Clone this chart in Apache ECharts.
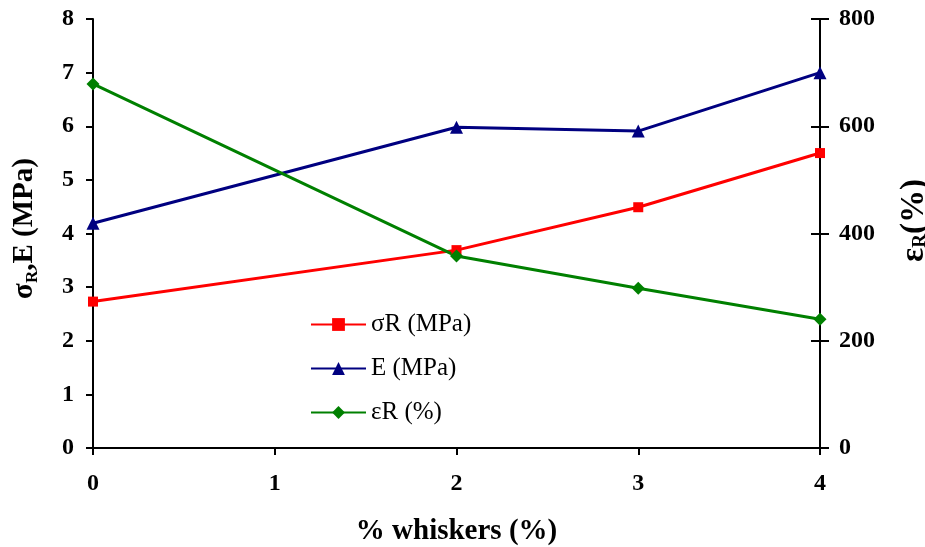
<!DOCTYPE html>
<html>
<head>
<meta charset="utf-8">
<script src="https://cdn.jsdelivr.net/npm/echarts@6/dist/echarts.min.js"></script>
<style>html,body{margin:0;padding:0;background:#fff}#c{width:925px;height:547px}</style>
</head>
<body>
<div id="c"></div>
<script>
const xValues = [0, 2, 3, 4];
const sigmaR = [2.73, 3.69, 4.49, 5.5];
const modulusE = [4.19, 5.98, 5.91, 7.0];
const epsR = [679, 358, 298, 240];
const xTicks = [0, 1, 2, 3, 4];
const seriesNames = ['σR (MPa)', 'E (MPa)', 'εR (%)'];

const F = '"Liberation Serif", "Times New Roman", serif';
const pair = arr => arr.map((v, i) => [xValues[i], v]);

const chart = echarts.init(document.getElementById('c'));
const tickLbl = { fontFamily: F, fontWeight: 'bold', fontSize: 24, color: '#000' };
const mkRich = (big, small) => ({
  a: { fontFamily: F, fontWeight: 'bold', fontSize: big, color: '#000', lineHeight: 32 },
  b: { fontFamily: F, fontWeight: 'bold', fontSize: small, color: '#000', lineHeight: 32, verticalAlign: 'bottom', padding: [12, 0, 0, 0] }
});
chart.setOption({
  animation: false,
  grid: { left: 93, right: 105, top: 19, bottom: 99, containLabel: false, outerBoundsMode: 'none' },
  legend: {
    orient: 'vertical', left: 310, top: 312, padding: 0,
    itemWidth: 55, itemHeight: 16, itemGap: 19,
    selectedMode: false,
    textStyle: { fontFamily: F, fontSize: 25, color: '#000', lineHeight: 24 },
    data: seriesNames
  },
  xAxis: {
    type: 'value', min: xTicks[0], max: xTicks[xTicks.length - 1], interval: 1,
    name: '% whiskers (%)', nameLocation: 'middle', nameGap: 69,
    nameTextStyle: { fontFamily: F, fontWeight: 'bold', fontSize: 29, color: '#000' },
    axisLine: { lineStyle: { color: '#000', width: 2 } },
    axisTick: { show: true, length: 7, lineStyle: { color: '#000', width: 2 } },
    axisLabel: Object.assign({ margin: 24 }, tickLbl),
    splitLine: { show: false }
  },
  yAxis: [
    {
      type: 'value', position: 'left', min: 0, max: 8, interval: 1,
      name: '{a|σ}{b|R}{a|,E (MPa)}', nameLocation: 'middle', nameGap: 52, nameRotate: 90,
      nameTextStyle: { color: '#000', padding: [0, 0, 0, 10], rich: mkRich(29, 17) },
      axisLine: { show: true, lineStyle: { color: '#000', width: 2 } },
      axisTick: { show: true, length: 7, lineStyle: { color: '#000', width: 2 } },
      axisLabel: Object.assign({ margin: 19 }, tickLbl),
      splitLine: { show: false }
    },
    {
      type: 'value', position: 'right', min: 0, max: 800, interval: 200,
      name: '{a|ε}{b|R}{a|(%)}', nameLocation: 'middle', nameGap: 78, nameRotate: 90,
      nameTextStyle: { color: '#000', padding: [0, 0, 0, 26], rich: mkRich(33, 19) },
      axisLine: { show: true, lineStyle: { color: '#000', width: 2 } },
      axisTick: { show: true, length: 9, lineStyle: { color: '#000', width: 2 } },
      axisLabel: Object.assign({ margin: 19 }, tickLbl),
      splitLine: { show: false }
    },
    {
      type: 'value', position: 'right', min: 0, max: 800, interval: 200,
      axisLine: { show: false },
      axisTick: { show: true, inside: true, length: 9, lineStyle: { color: '#000', width: 2 } },
      axisLabel: { show: false },
      splitLine: { show: false }
    }
  ],
  series: [
    { name: seriesNames[0], type: 'line', yAxisIndex: 0, data: pair(sigmaR),
      symbol: 'rect', symbolSize: 10, color: '#FF0000',
      lineStyle: { width: 3, color: '#FF0000' }, itemStyle: { color: '#FF0000' } },
    { name: seriesNames[1], type: 'line', yAxisIndex: 0, data: pair(modulusE),
      symbol: 'triangle', symbolSize: 13, color: '#000080',
      lineStyle: { width: 3, color: '#000080' }, itemStyle: { color: '#000080' } },
    { name: seriesNames[2], type: 'line', yAxisIndex: 1, data: pair(epsR),
      symbol: 'diamond', symbolSize: 13, color: '#008000',
      lineStyle: { width: 3, color: '#008000' }, itemStyle: { color: '#008000' } }
  ]
});
</script>
</body>
</html>
